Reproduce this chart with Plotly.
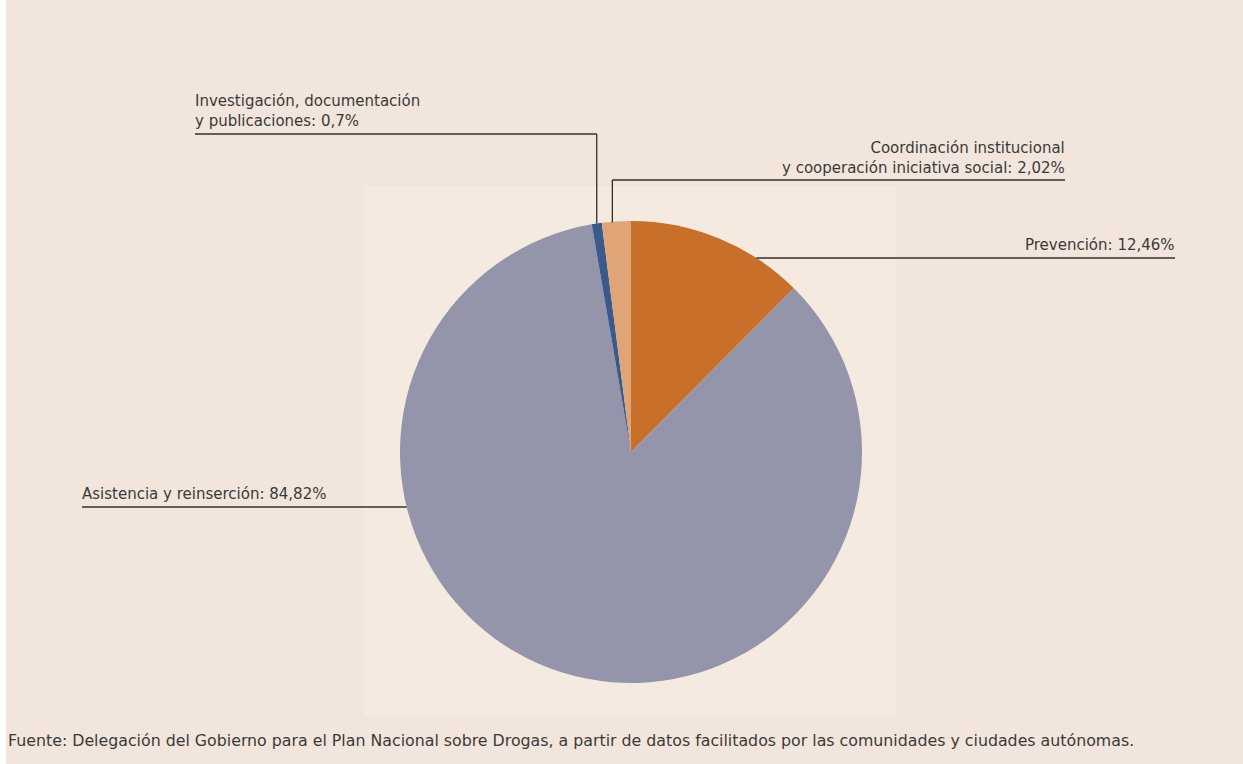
import math
import plotly.graph_objects as go

# ---- data ----
categories = ["Prevención", "Asistencia y reinserción",
              "Investigación, documentación y publicaciones",
              "Coordinación institucional y cooperación iniciativa social"]
values = [12.46, 84.82, 0.70, 2.02]
value_labels = ["12,46%", "84,82%", "0,7%", "2,02%"]
label_text = [
    "Prevención: 12,46%",
    "Asistencia y reinserción: 84,82%",
    "Investigación, documentación<br>y publicaciones: 0,7%",
    "Coordinación institucional<br>y cooperación iniciativa social: 2,02%",
]
source_text = ("Fuente: Delegación del Gobierno para el Plan Nacional sobre Drogas, "
               "a partir de datos facilitados por las comunidades y ciudades autónomas.")

# ---- style / layout ----
W, H = 1243, 764
colors = ["#c8702a", "#9494ab", "#3b5a8c", "#e0a577"]
BG = "#f2e6dc"
INNER = "#f5eae0"
TEXT = "#3a3a3a"
LINE = "#2f2f2f"
FONT = "DejaVu Sans"
LABEL_SIZE = 15.0
SOURCE_SIZE = 15.8

CX, CY, R = 631, 452, 231  # pie centre / radius in pixels


def px(x):
    return x / W


def py(y):
    return 1 - y / H


fig = go.Figure(go.Pie(
    labels=categories, values=values, sort=False, direction="clockwise",
    rotation=0, marker=dict(colors=colors, line=dict(width=0)),
    textinfo="none", hoverinfo="label+percent", showlegend=False,
    domain=dict(x=[px(CX - R), px(CX + R)], y=[py(CY + R), py(CY - R)]),
))

# slice mid angles (clockwise from top)
total = sum(values)
mids = []
cum = 0
for v in values:
    mids.append((cum + v / 2) / total * 2 * math.pi)
    cum += v


def edge_point(angle):
    return CX + R * math.sin(angle), CY - R * math.cos(angle)


def edge_x_at_y(y, side):
    dx = math.sqrt(max(R * R - (y - CY) ** 2, 0))
    return CX + side * dx


shapes = [
    dict(type="rect", xref="paper", yref="paper", x0=0, x1=px(6), y0=0, y1=1,
         fillcolor="white", line=dict(width=0), layer="below"),
    dict(type="rect", xref="paper", yref="paper", x0=px(364), x1=px(896),
         y0=py(717), y1=py(186), fillcolor=INNER, line=dict(width=0), layer="below"),
]
annotations = []


def hline(x0, x1, y):
    shapes.append(dict(type="line", xref="paper", yref="paper", x0=px(x0), x1=px(x1),
                       y0=py(y), y1=py(y), line=dict(color=LINE, width=1.3)))


def vline(x, y0, y1):
    shapes.append(dict(type="line", xref="paper", yref="paper", x0=px(x), x1=px(x),
                       y0=py(y0), y1=py(y1), line=dict(color=LINE, width=1.3)))


def label(text, x, y, xanchor, align):
    annotations.append(dict(text=text, xref="paper", yref="paper", x=px(x), y=py(y),
                            xanchor=xanchor, yanchor="bottom", align=align,
                            showarrow=False,
                            font=dict(family=FONT, size=LABEL_SIZE, color=TEXT)))


# Prevención
yp = 258
hline(edge_x_at_y(yp, 1), 1175, yp)
label(label_text[0], 1177, yp - 2, "right", "right")

# Asistencia
ya = 507
hline(82, edge_x_at_y(ya, -1), ya)
label(label_text[1], 80, ya - 2, "left", "left")

# Investigación
ex, ey = edge_point(mids[2])
yi = 134
hline(195, ex, yi)
vline(ex, yi, ey)
label(label_text[2], 193, yi - 2, "left", "left")

# Coordinación
ex, ey = edge_point(mids[3])
ex -= 4
yc = 180
hline(ex, 1065, yc)
vline(ex, yc, ey + 1)
label(label_text[3], 1067, yc - 1, "right", "right")

# source
annotations.append(dict(text=source_text, xref="paper", yref="paper", x=px(6), y=py(740),
                        xanchor="left", yanchor="middle", showarrow=False,
                        font=dict(family=FONT, size=SOURCE_SIZE, color=TEXT)))

fig.update_layout(
    width=W, height=H, margin=dict(l=0, r=0, t=0, b=0),
    paper_bgcolor=BG, plot_bgcolor=BG,
    shapes=shapes, annotations=annotations,
)

fig.write_html("out.html", config={"displayModeBar": False},
               post_script="document.body.style.margin='0';document.body.style.overflow='hidden';")
